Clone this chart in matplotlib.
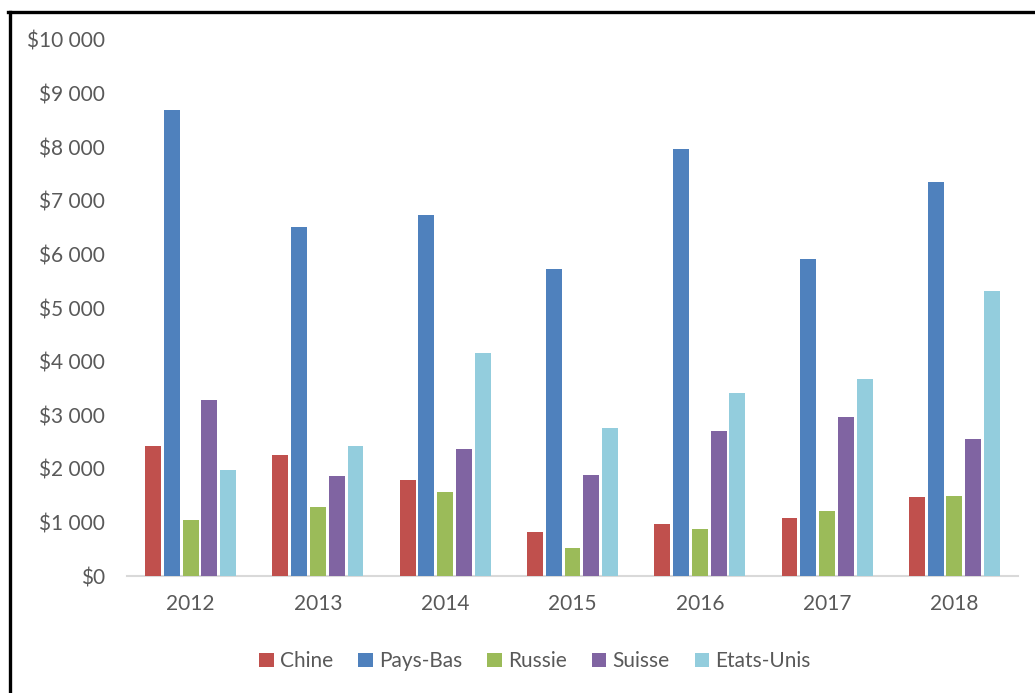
import numpy as np
import matplotlib
matplotlib.use("Agg")
from matplotlib import pyplot as plt
from matplotlib.ticker import FuncFormatter
from matplotlib.lines import Line2D

plt.rcParams['font.family'] = ['Lato', 'DejaVu Sans']

# Données
annees = ['2012', '2013', '2014', '2015', '2016', '2017', '2018']
pays = ['Chine', 'Pays-Bas', 'Russie', 'Suisse', 'Etats-Unis']
chine = [2420, 2250, 1800, 820, 970, 1090, 1470]
pays_bas = [8690, 6510, 6740, 5730, 7970, 5910, 7350]
russie = [1050, 1290, 1560, 520, 870, 1210, 1500]
suisse = [3290, 1860, 2370, 1890, 2700, 2970, 2550]
etats_unis = [1980, 2430, 4160, 2760, 3410, 3680, 5320]
series = [chine, pays_bas, russie, suisse, etats_unis]
couleurs = ['#C0504D', '#4F81BD', '#9BBB59', '#8064A2', '#93CDDD']

gris = '#595959'

fig = plt.figure(figsize=(10.35, 6.93), dpi=100)
ax = fig.add_axes([0.1227, 0.1688, 0.8609, 0.7735])

x = np.arange(len(annees))
pas = 0.1477
for i, (valeurs, couleur) in enumerate(zip(series, couleurs)):
    ax.bar(x + (i - 2) * pas, valeurs, width=0.125, color=couleur, label=pays[i], zorder=3)

ax.set_xlim(-0.5, len(annees) - 0.5)
ax.set_ylim(0, 10000)
ax.set_yticks(np.arange(0, 10001, 1000))
ax.yaxis.set_major_formatter(FuncFormatter(lambda v, p: '$' + f'{int(v):,}'.replace(',', ' ')))
ax.set_xticks(x)
ax.set_xticklabels(annees)

for s in ['top', 'right', 'left']:
    ax.spines[s].set_visible(False)
ax.spines['bottom'].set_color('#D9D9D9')
ax.spines['bottom'].set_linewidth(1.5)
ax.tick_params(axis='both', length=0, labelsize=15, colors=gris)
ax.tick_params(axis='y', pad=16)
ax.tick_params(axis='x', pad=13)

leg = ax.legend(loc='center', bbox_to_anchor=(0.517, 0.046), bbox_transform=fig.transFigure,
                ncol=5, frameon=False, fontsize=15, handlelength=0.7, handleheight=0.7,
                handletextpad=0.3, columnspacing=1.2)
for t in leg.get_texts():
    t.set_color(gris)

# Cadre noir autour du graphique (bords droit et bas hors image)
fig.add_artist(Line2D([8 / 1035, 1.0], [1 - 11.5 / 693] * 2, transform=fig.transFigure, color='black', lw=2.4))
fig.add_artist(Line2D([9.5 / 1035] * 2, [0, 1 - 11.5 / 693], transform=fig.transFigure, color='black', lw=2.4))

fig.savefig('out.png', dpi=100)
